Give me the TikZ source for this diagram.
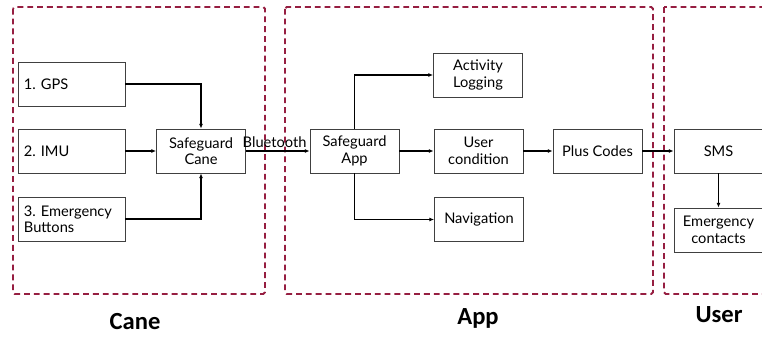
\documentclass[tikz,border=0pt]{standalone}
\usepackage{fontspec}
\setmainfont{Lato}
\newfontfamily\titlefont{Carlito}
\usetikzlibrary{arrows.meta,positioning}
\definecolor{zonered}{RGB}{150,30,65}
\frenchspacing
\begin{document}
\begin{tikzpicture}[
    x=0.03cm, y=-0.03cm,
    font=\fontsize{12.5}{14}\selectfont,
    flow/.style={-{Latex[length=4pt,width=3.5pt]}, line width=1.1pt},
    block/.style={draw=black!75, line width=0.8pt, align=center, inner sep=2pt,
                  minimum width=2.67cm, minimum height=1.32cm},
    source/.style={block, minimum width=3.21cm, align=left, text width=2.85cm},
    zone/.style={draw=zonered, line width=1.6pt, dash pattern=on 5pt off 3.4pt,
                 rounded corners=1.5pt},
    zonename/.style={font=\titlefont\bfseries\fontsize{21}{24}\selectfont}
  ]
  \useasboundingbox (0,0) rectangle (762,337);

  % zones
  \draw[zone] (13,7) rectangle (265,294);
  \draw[zone] (285,7) rectangle (653,294);
  \draw[zone] (664,7) -- (664,294) -- (775,294) (775,7) -- (664,7);
  \node[zonename] (canename) at (135,322) {Cane};
  \node[zonename] (appname) at (478,318) {App};
  \node[zonename] (username) at (719,315) {User};

  % cane side
  \node[source] (gps) at (71.5,84) {1. GPS};
  \node[source] (imu) at (71.5,151) {2. IMU};
  \node[source] (buttons) at (71.5,219) {3. Emergency\\Buttons};
  \node[block] (cane) at (201,151) {Safeguard\\Cane};

  % app side
  \node[block] (app) at (354.5,151) {Safeguard\\App};
  \node[block] (logging) at (478,75) {Activity\\Logging};
  \node[block] (condition) at (478.5,151) {User\\condition};
  \node[block] (navigation) at (479,219.5) {Navigation};
  \node[block] (pluscodes) at (597.5,151) {Plus Codes};

  % user side
  \node[block] (sms) at (718.5,151) {SMS};
  \node[block] (contacts) at (718.5,230) {Emergency\\contacts};

  \draw[flow] (gps.east) -| (cane.north);
  \draw[flow] (imu) -- (cane);
  \draw[flow] (buttons.east) -| (cane.south);
  \draw[flow] (cane) -- node[above=-1pt, pos=0.45] (bt) {Bluetooth} (app);
  \draw[flow] (app.north) |- (logging.west);
  \draw[flow] (app) -- (condition);
  \draw[flow] (app.south) |- (navigation.west);
  \draw[flow] (condition) -- (pluscodes);
  \draw[flow] (pluscodes) -- (sms);
  \draw[flow] (sms) -- (contacts);
\end{tikzpicture}
\end{document}
